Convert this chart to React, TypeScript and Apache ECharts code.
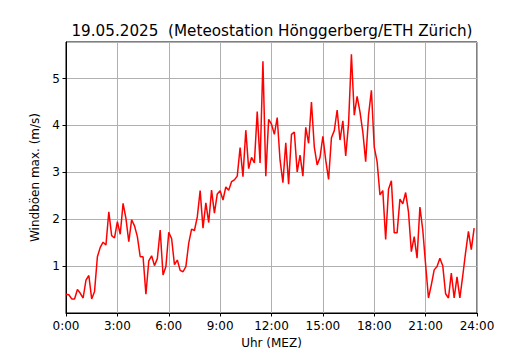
import React, { useEffect, useRef } from "react";
import * as echarts from "echarts";

const TITLE = "19.05.2025  (Meteostation Hönggerberg/ETH Zürich)";
const X_LABEL = "Uhr (MEZ)";
const Y_LABEL = "Windböen max. (m/s)";

// one value every 10 minutes, starting 0:00
const STEP_MIN = 10;
const gusts: number[] = [
  0.40, 0.39, 0.30, 0.30, 0.50, 0.42, 0.32, 0.70, 0.80, 0.30, 0.46, 1.20,
  1.40, 1.51, 1.45, 2.16, 1.65, 1.60, 1.95, 1.68, 2.34, 2.02, 1.52, 1.99,
  1.86, 1.63, 1.20, 1.20, 0.40, 1.11, 1.22, 1.01, 1.16, 1.77, 0.81, 0.99,
  1.72, 1.59, 1.03, 1.13, 0.91, 0.88, 0.99, 1.49, 1.79, 1.76, 2.05, 2.61,
  1.81, 2.35, 1.93, 2.62, 2.13, 2.54, 2.61, 2.41, 2.69, 2.62, 2.80, 2.84,
  2.92, 3.53, 2.91, 3.90, 3.08, 3.32, 3.20, 4.30, 3.20, 5.37, 2.92, 4.13,
  4.03, 3.81, 4.17, 3.26, 2.78, 3.63, 2.75, 3.81, 3.86, 3.01, 3.37, 2.92,
  3.96, 3.62, 4.50, 3.54, 3.16, 3.32, 3.77, 3.26, 2.85, 3.74, 3.89, 4.33,
  3.69, 4.10, 3.35, 4.04, 5.52, 4.22, 4.62, 4.29, 3.86, 3.23, 4.22, 4.75,
  3.54, 3.23, 2.52, 2.61, 1.57, 2.64, 2.82, 1.71, 1.71, 2.43, 2.33, 2.57,
  2.15, 1.31, 1.63, 1.17, 2.26, 1.77, 1.03, 0.32, 0.60, 0.92, 0.99, 1.17,
  1.01, 0.41, 0.32, 0.85, 0.32, 0.77, 0.32, 0.79, 1.29, 1.74, 1.35, 1.81,
];

const X_TICK_HOURS = [0, 3, 6, 9, 12, 15, 18, 21, 24];
const Y_TICKS = [1, 2, 3, 4, 5];

export default function App() {
  const ref = useRef<HTMLDivElement>(null);
  useEffect(() => {
    if (!ref.current) return;
    const chart = echarts.init(ref.current, null, { renderer: "svg" });
    const data = gusts.map((v, i) => [(i * STEP_MIN) / 60, v]);
    const vmax = Math.max(...gusts);
    const vmin = Math.min(...gusts);
    const yMax = vmax + 0.05 * (vmax - vmin);
    const font = "DejaVu Sans";
    chart.setOption({
      animation: false,
      backgroundColor: "#ffffff",
      textStyle: { fontFamily: font },
      title: {
        text: TITLE,
        left: 267,
        top: 18,
        textAlign: "center",
        textStyle: { fontFamily: font, fontSize: 15.2, fontWeight: "normal", color: "#000" },
      },
      grid: {
        left: 66,
        right: 53,
        top: 42,
        bottom: 37,
        containLabel: false,
        outerBoundsMode: "none",
        show: true,
        borderColor: "#000",
        borderWidth: 1,
        backgroundColor: "transparent",
      },
      xAxis: {
        type: "value",
        min: 0,
        max: 24,
        interval: 3,
        name: X_LABEL,
        nameLocation: "middle",
        nameGap: 23.5,
        nameTextStyle: { fontFamily: font, fontSize: 12, color: "#000", lineHeight: 13 },
        axisLine: { show: true, lineStyle: { color: "#000", width: 1 } },
        axisTick: { show: true, length: 3.5, lineStyle: { color: "#000" } },
        axisLabel: {
          margin: 7,
          fontFamily: font,
          fontSize: 12,
          color: "#000",
          formatter: (v: number) => (X_TICK_HOURS.includes(v) ? `${v}:00` : ""),
        },
        splitLine: { show: true, lineStyle: { color: "#b0b0b0", width: 1 } },
      },
      yAxis: {
        type: "value",
        min: 0,
        max: yMax,
        interval: 1,
        name: Y_LABEL,
        nameLocation: "middle",
        nameGap: 23,
        nameRotate: 90,
        nameTextStyle: { fontFamily: font, fontSize: 12, color: "#000" },
        axisLine: { show: true, lineStyle: { color: "#000", width: 1 } },
        axisTick: { show: true, length: 3.5, lineStyle: { color: "#000" } },
        axisLabel: {
          margin: 6,
          fontFamily: font,
          fontSize: 12,
          color: "#000",
          showMinLabel: false,
          showMaxLabel: false,
          formatter: (v: number) => (Y_TICKS.includes(v) ? String(v) : ""),
        },
        splitLine: { show: true, lineStyle: { color: "#b0b0b0", width: 1 } },
      },
      series: [
        {
          type: "line",
          data,
          showSymbol: false,
          symbol: "none",
          lineStyle: { color: "#ff0000", width: 1.5 },
          z: 5,
        },
      ],
    });
    return () => chart.dispose();
  }, []);
  return <div ref={ref} style={{ width: 530, height: 350, position: "absolute", left: 0, top: 0 }} />;
}
